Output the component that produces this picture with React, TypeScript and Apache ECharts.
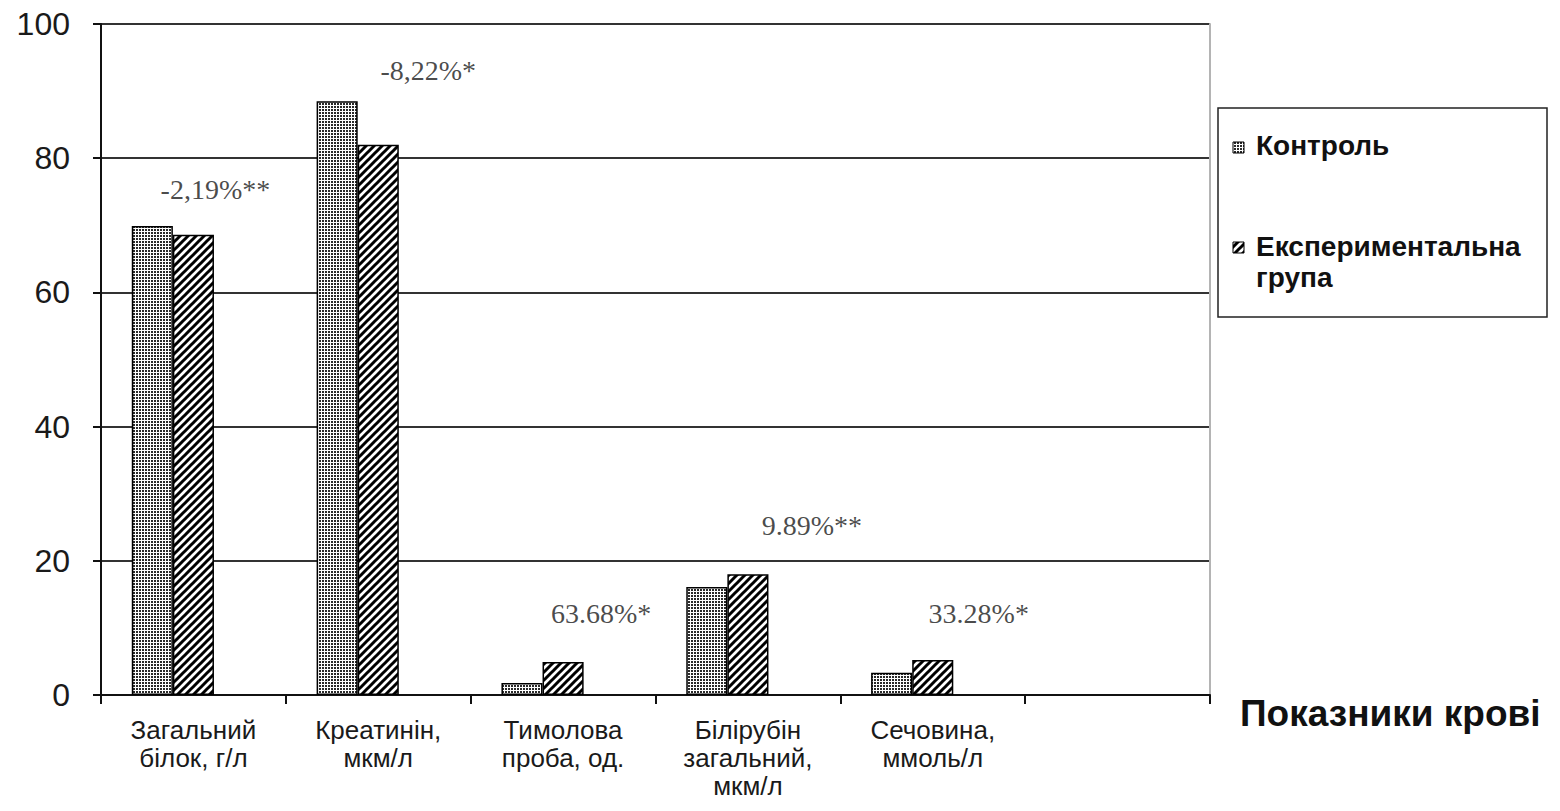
import React, { useEffect, useRef } from "react";
import * as echarts from "echarts";

// Blood indicators (last slot is left empty on the axis)
const categories: string[] = [
  "Загальний\nбілок, г/л",
  "Креатинін,\nмкм/л",
  "Тимолова\nпроба, од.",
  "Білірубін\nзагальний,\nмкм/л",
  "Сечовина,\nммоль/л",
  "",
];

const controlValues: (number | null)[] = [69.9, 88.5, 1.8, 16.1, 3.3, null];
const experimentValues: (number | null)[] = [68.6, 82.0, 4.9, 18.0, 5.2, null];
// third bar slot in every group stays empty
const reservedSlot: (number | null)[] = [null, null, null, null, null, null];

const yTicks = { min: 0, max: 100, interval: 20 };

// percentage-change annotations above each group
const annotationTexts: string[] = ["-2,19%**", "-8,22%*", "63.68%*", "9.89%**", "33.28%*"];
const annotationHeights: number[] = [75.3, 93.1, 12.1, 25.2, 12.1];
const annotationShiftX: number[] = [22, 50, 38, 64, 46];

const seriesNames = ["Контроль", "Експериментальна\nгрупа"];

function makeDots(): HTMLCanvasElement {
  const c = document.createElement("canvas");
  c.width = 3;
  c.height = 3;
  const ctx = c.getContext("2d")!;
  ctx.fillStyle = "#ffffff";
  ctx.fillRect(0, 0, 3, 3);
  ctx.fillStyle = "#2a2a2a";
  ctx.fillRect(1, 1, 2, 2);
  return c;
}

function makeHatch(): HTMLCanvasElement {
  const s = 8;
  const c = document.createElement("canvas");
  c.width = s;
  c.height = s;
  const ctx = c.getContext("2d")!;
  ctx.fillStyle = "#ffffff";
  ctx.fillRect(0, 0, s, s);
  ctx.strokeStyle = "#000000";
  ctx.lineWidth = 3;
  ctx.lineCap = "square";
  ctx.beginPath();
  ctx.moveTo(-1, s + 1);
  ctx.lineTo(s + 1, -1);
  ctx.moveTo(-2, 2);
  ctx.lineTo(2, -2);
  ctx.moveTo(s - 2, s + 2);
  ctx.lineTo(s + 2, s - 2);
  ctx.stroke();
  return c;
}

export default function App() {
  const ref = useRef<HTMLDivElement>(null);

  useEffect(() => {
    document.body.style.margin = "0";
    if (!ref.current) return;
    const chart = echarts.init(ref.current, undefined, { renderer: "svg" });

    const dots = { image: makeDots(), repeat: "repeat" as const };
    const hatch = { image: makeHatch(), repeat: "repeat" as const };

    const sans = "'Liberation Sans', Arial, sans-serif";
    const serif = "'Liberation Serif', 'Times New Roman', serif";

    chart.setOption({
      animation: false,
      backgroundColor: "#ffffff",
      grid: { left: 101, right: 350, top: 24, bottom: 116, containLabel: false },
      xAxis: {
        type: "category",
        data: categories,
        name: "Показники крові",
        nameLocation: "end",
        nameGap: 30,
        nameTextStyle: {
          fontFamily: sans,
          fontSize: 37,
          fontWeight: "bold",
          color: "#111",
          verticalAlign: "top",
          lineHeight: 37,
        },
        axisLine: { show: true, lineStyle: { color: "#111", width: 2 } },
        axisTick: { show: true, length: 9, lineStyle: { color: "#111", width: 2 } },
        axisLabel: {
          interval: 0,
          margin: 21,
          fontFamily: sans,
          fontSize: 26,
          lineHeight: 28,
          color: "#1a1a1a",
          align: "center",
        },
        splitLine: { show: false },
      },
      yAxis: [
        {
          type: "value",
          min: yTicks.min,
          max: yTicks.max,
          interval: yTicks.interval,
          axisLine: { show: true, lineStyle: { color: "#111", width: 2 } },
          axisTick: { show: true, length: 8, lineStyle: { color: "#111", width: 2 } },
          axisLabel: { margin: 31, fontFamily: sans, fontSize: 32, color: "#1a1a1a" },
          splitLine: { show: true, lineStyle: { color: "#333", width: 2 } },
        },
        {
          type: "value",
          position: "right",
          min: yTicks.min,
          max: yTicks.max,
          interval: yTicks.interval,
          axisLine: { show: true, lineStyle: { color: "#b4b4b4", width: 2 } },
          axisTick: { show: false },
          axisLabel: { show: false },
          splitLine: { show: false },
        },
      ],
      series: [
        {
          name: seriesNames[0],
          type: "bar",
          data: controlValues,
          barGap: "0%",
          barCategoryGap: "33.3%",
          itemStyle: { color: dots, borderColor: "#000", borderWidth: 1.5 },
          silent: true,
        },
        {
          name: seriesNames[1],
          type: "bar",
          data: experimentValues,
          barGap: "0%",
          barCategoryGap: "33.3%",
          itemStyle: { color: hatch, borderColor: "#000", borderWidth: 1.5 },
          silent: true,
        },
        {
          name: "slot",
          type: "bar",
          data: reservedSlot,
          barGap: "0%",
          barCategoryGap: "33.3%",
          silent: true,
        },
        {
          type: "scatter",
          silent: true,
          symbolSize: 1,
          itemStyle: { color: "transparent" },
          data: annotationHeights.map((h, i) => ({
            value: [i, h],
            label: {
              show: true,
              position: "inside",
              offset: [annotationShiftX[i], 0],
              formatter: annotationTexts[i],
              fontFamily: serif,
              fontSize: 28,
              color: "#1a1a1a",
            },
          })),
        },
      ],
      graphic: [
        {
          type: "rect",
          shape: { x: 1218, y: 108, width: 329, height: 209 },
          style: { fill: "#fff", stroke: "#222", lineWidth: 1.5 },
          z: 10,
        },
        {
          type: "rect",
          shape: { x: 1233, y: 142, width: 11, height: 11 },
          style: { fill: dots, stroke: "#000", lineWidth: 1 },
          z: 11,
        },
        {
          type: "text",
          x: 1256,
          y: 145,
          style: {
            text: seriesNames[0],
            fontFamily: sans,
            fontSize: 28,
            fontWeight: "bold",
            fill: "#111",
            textVerticalAlign: "middle",
          },
          z: 11,
        },
        {
          type: "rect",
          shape: { x: 1233, y: 242, width: 11, height: 11 },
          style: { fill: hatch, stroke: "#000", lineWidth: 1 },
          z: 11,
        },
        {
          type: "text",
          x: 1256,
          y: 231,
          style: {
            text: seriesNames[1],
            fontFamily: sans,
            fontSize: 28,
            fontWeight: "bold",
            lineHeight: 31,
            fill: "#111",
            textVerticalAlign: "top",
          },
          z: 11,
        },
      ],
    });

    return () => chart.dispose();
  }, []);

  return <div ref={ref} style={{ width: 1560, height: 811 }} />;
}
